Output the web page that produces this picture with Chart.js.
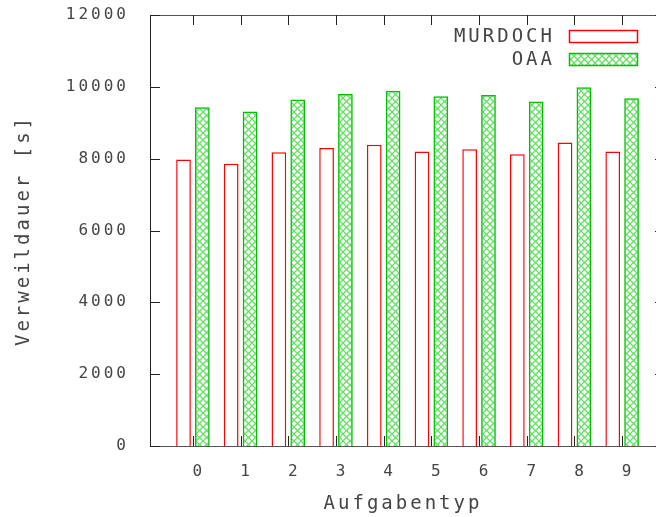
<!DOCTYPE html>
<html>
<head>
<meta charset="utf-8">
<script src="https://cdn.jsdelivr.net/npm/chart.js@4.4.0/dist/chart.umd.min.js"></script>
<style>
  html, body { margin: 0; padding: 0; background: #fff; }
  #wrap { width: 656px; height: 517px; }
</style>
</head>
<body>
<div id="wrap"><canvas id="chart" width="656" height="517"></canvas></div>
<script>
// --- DATA ---
const taskTypes = [0, 1, 2, 3, 4, 5, 6, 7, 8, 9];
const murdochValues = [7980, 7860, 8180, 8300, 8390, 8200, 8260, 8120, 8450, 8200];
const oaaValues = [9430, 9310, 9650, 9800, 9890, 9740, 9770, 9590, 9990, 9680];
const yTicks = [0, 2000, 4000, 6000, 8000, 10000, 12000];
const seriesNames = ['MURDOCH', 'OAA'];

// --- STYLE ---
const TEXT_COLOR = '#444';
const FONT_FAMILY = '"DejaVu Sans Mono", "Liberation Mono", monospace';
const TICK_SIZE = 16;
const TITLE_SIZE = 19;
const HIDDEN_RIGHT = 9; // gnuplot's right border sits just past the canvas edge

// green cross hatch like gnuplot's pattern fill
function makeHatch() {
    const size = 7;
    const c = document.createElement('canvas');
    c.width = size;
    c.height = size;
    const g = c.getContext('2d');
    g.strokeStyle = 'rgba(0, 200, 0, 0.6)';
    g.lineWidth = 1.3;
    g.beginPath();
    g.moveTo(-1, -1); g.lineTo(size + 1, size + 1);
    g.moveTo(size + 1, -1); g.lineTo(-1, size + 1);
    g.stroke();
    return g.createPattern(c, 'repeat');
}

// wide gnuplot-ish lettering
const spacingPlugin = {
    id: 'spacing',
    beforeUpdate(chart) { chart.ctx.letterSpacing = '3px'; },
    beforeLayout(chart) { chart.ctx.letterSpacing = '3px'; },
    beforeDraw(chart) { chart.ctx.letterSpacing = '3px'; }
};

// frame with inward ticks
const framePlugin = {
    id: 'frame',
    afterDatasetsDraw(chart) {
        const { ctx, chartArea: a, scales: { x, y } } = chart;
        const len = 10;
        const farRight = a.right + HIDDEN_RIGHT;
        ctx.save();
        ctx.lineWidth = 1;
        ctx.strokeStyle = '#555';
        ctx.beginPath();
        ctx.moveTo(a.left, a.top + 0.5); ctx.lineTo(farRight, a.top + 0.5);
        ctx.moveTo(a.left, a.bottom + 0.5); ctx.lineTo(farRight, a.bottom + 0.5);
        ctx.stroke();
        ctx.strokeStyle = '#222';
        ctx.beginPath();
        ctx.moveTo(a.left + 0.5, a.top); ctx.lineTo(a.left + 0.5, a.bottom + 1);
        yTicks.forEach(v => {
            const py = Math.round(y.getPixelForValue(v)) + 0.5;
            ctx.moveTo(a.left, py); ctx.lineTo(a.left + len, py);
            ctx.moveTo(farRight, py); ctx.lineTo(farRight - len, py);
        });
        taskTypes.forEach(v => {
            const px = Math.round(x.getPixelForValue(v)) + 0.5;
            ctx.moveTo(px, a.bottom); ctx.lineTo(px, a.bottom - len);
            ctx.moveTo(px, a.top); ctx.lineTo(px, a.top + len);
        });
        ctx.stroke();
        ctx.restore();
    }
};

// legend inside the plot, text left of a long sample box
const boxLegendPlugin = {
    id: 'boxLegend',
    afterDraw(chart) {
        const { ctx, chartArea: a } = chart;
        const boxW = 68, boxH = 12;
        const boxRight = a.right - 19;
        ctx.save();
        ctx.font = TITLE_SIZE + 'px ' + FONT_FAMILY;
        ctx.textAlign = 'right';
        ctx.textBaseline = 'middle';
        chart.data.datasets.forEach((ds, i) => {
            const cy = a.top + 21 + i * 23;
            ctx.fillStyle = TEXT_COLOR;
            ctx.fillText(ds.label, boxRight - boxW - 14, cy + 1);
            ctx.fillStyle = ds.backgroundColor;
            ctx.fillRect(boxRight - boxW, cy - boxH / 2, boxW, boxH);
            ctx.strokeStyle = ds.borderColor;
            ctx.lineWidth = 1.5;
            ctx.strokeRect(boxRight - boxW + 0.5, cy - boxH / 2 + 0.5, boxW, boxH);
        });
        ctx.restore();
    }
};

const toPoints = values => taskTypes.map((t, i) => ({ x: t, y: values[i] }));

new Chart(document.getElementById('chart'), {
    type: 'bar',
    data: {
        datasets: [{
            label: seriesNames[0],
            data: toPoints(murdochValues),
            backgroundColor: '#ffffff',
            borderColor: '#ff0000',
            borderWidth: 1.5
        }, {
            label: seriesNames[1],
            data: toPoints(oaaValues),
            backgroundColor: makeHatch(),
            borderColor: '#00c000',
            borderWidth: 1.5
        }]
    },
    options: {
        responsive: false,
        animation: false,
        devicePixelRatio: 1,
        layout: { padding: { top: 15, right: 0, bottom: 0, left: 0 } },
        datasets: { bar: { categoryPercentage: 0.79, barPercentage: 0.78 } },
        plugins: {
            legend: { display: false },
            tooltip: { enabled: false }
        },
        scales: {
            x: {
                type: 'linear',
                offset: false,
                min: -0.9,
                max: 9.71,
                grid: { display: false, drawTicks: false },
                border: { display: false },
                afterBuildTicks: scale => { scale.ticks = taskTypes.map(v => ({ value: v })); },
                afterFit: scale => {
                    scale.height = 71;
                    scale.paddingLeft = 0;
                    scale.paddingRight = 0;
                },
                ticks: {
                    color: TEXT_COLOR,
                    font: { family: FONT_FAMILY, size: TICK_SIZE },
                    padding: 16,
                    labelOffset: 6,
                    maxRotation: 0,
                    callback: v => String(v)
                },
                title: {
                    display: true,
                    text: 'Aufgabentyp',
                    color: TEXT_COLOR,
                    font: { family: FONT_FAMILY, size: TITLE_SIZE },
                    padding: { top: 0, bottom: 2 }
                }
            },
            y: {
                min: 0,
                max: 12000,
                grid: { display: false, drawTicks: false },
                border: { display: false },
                afterBuildTicks: scale => { scale.ticks = yTicks.map(v => ({ value: v })); },
                afterFit: scale => {
                    scale.width = 150;
                    scale.paddingTop = 0;
                    scale.paddingBottom = 0;
                },
                ticks: {
                    color: TEXT_COLOR,
                    font: { family: FONT_FAMILY, size: TICK_SIZE },
                    padding: 21,
                    callback: v => String(v)
                },
                title: {
                    display: true,
                    text: 'Verweildauer [s]',
                    color: TEXT_COLOR,
                    font: { family: FONT_FAMILY, size: TITLE_SIZE },
                    padding: { top: 13, bottom: 0 }
                }
            }
        }
    },
    plugins: [spacingPlugin, framePlugin, boxLegendPlugin]
});
</script>
</body>
</html>
